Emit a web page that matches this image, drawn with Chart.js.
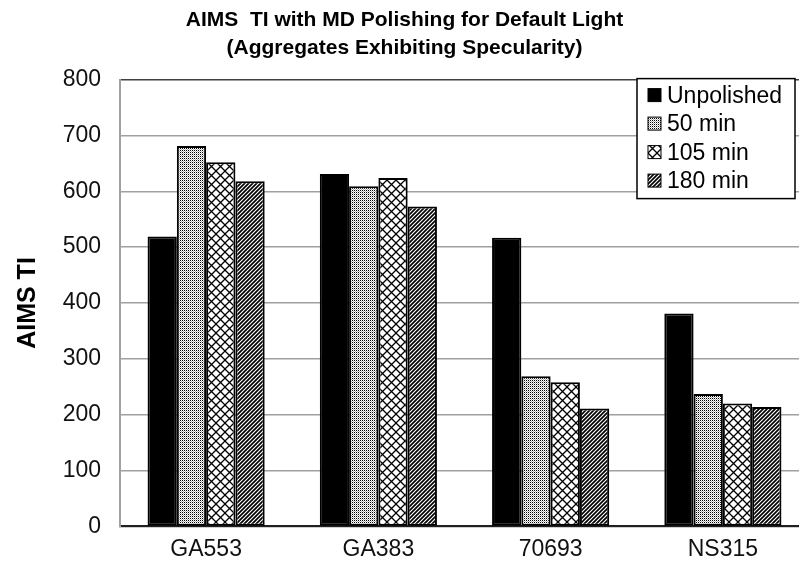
<!DOCTYPE html>
<html>
<head>
<meta charset="utf-8">
<title>AIMS TI with MD Polishing</title>
<script src="https://cdn.jsdelivr.net/npm/chart.js@4/dist/chart.umd.min.js"></script>
<style>
  html, body { margin: 0; padding: 0; overflow: hidden; background: #fff; }
  #wrap { width: 812px; height: 574px; position: relative; }
</style>
</head>
<body>
<div id="wrap"><canvas id="tiChart"></canvas></div>
<script>
// Aggregates and AIMS texture index per polishing time
const aggregates = ['GA553', 'GA383', '70693', 'NS315'];
const seriesNames = ['Unpolished', '50 min', '105 min', '180 min'];
const unpolished = [519, 631, 517, 381];
const min50 = [681, 609, 269, 237];
const min105 = [652, 624, 258, 220];
const min180 = [618, 573, 211, 214];
const yTicks = [0, 100, 200, 300, 400, 500, 600, 700, 800];

const FONT = '"Liberation Sans", Arial, sans-serif';

// Small tiles used as bar fills
function makePattern(kind) {
    const c = document.createElement('canvas');
    const g = c.getContext('2d');
    if (kind === 'dots') {
        c.width = 4; c.height = 4;
        g.fillStyle = '#fff';
        g.fillRect(0, 0, 4, 4);
        g.fillStyle = '#000';
        [[0, 0], [2, 0], [0, 2], [2, 2]].forEach(p => g.fillRect(p[0], p[1], 1, 1));
        g.fillStyle = '#b0b0b0';
        [[1, 1], [3, 3], [1, 3], [3, 1]].forEach(p => g.fillRect(p[0], p[1], 1, 1));
    } else if (kind === 'cross') {
        const s = 9;
        c.width = s; c.height = s;
        g.fillStyle = '#fff';
        g.fillRect(0, 0, s, s);
        g.strokeStyle = '#000';
        g.lineWidth = 1.3;
        g.beginPath();
        g.moveTo(-1, -1); g.lineTo(s + 1, s + 1);
        g.moveTo(-1, s + 1); g.lineTo(s + 1, -1);
        g.stroke();
    } else {
        const s = 4;
        c.width = s; c.height = s;
        g.fillStyle = '#fff';
        g.fillRect(0, 0, s, s);
        g.strokeStyle = '#000';
        g.lineWidth = 1.7;
        g.beginPath();
        g.moveTo(-1, s + 1); g.lineTo(s + 1, -1);
        g.moveTo(-1, 1); g.lineTo(1, -1);
        g.moveTo(s - 1, s + 1); g.lineTo(s + 1, s - 1);
        g.stroke();
    }
    return g.createPattern(c, 'repeat');
}

const fills = ['#000', makePattern('dots'), makePattern('cross'), makePattern('diag')];
const values = [unpolished, min50, min105, min180];

// Boxed legend in the upper right of the plot
const boxLegend = {
    id: 'boxLegend',
    afterDatasetsDraw(chart) {
        const { ctx, chartArea } = chart;
        const left = chartArea.right - 172;
        const top = chartArea.top - 1;
        const w = 158, h = 120;
        ctx.save();
        ctx.fillStyle = '#fff';
        ctx.fillRect(left, top, w, h);
        ctx.strokeStyle = '#000';
        ctx.lineWidth = 1.5;
        ctx.strokeRect(left, top, w, h);
        ctx.font = '23px ' + FONT;
        ctx.textBaseline = 'middle';
        chart.data.datasets.forEach((ds, i) => {
            const y = top + 17 + i * 28.5;
            ctx.fillStyle = ds.backgroundColor;
            ctx.fillRect(left + 11, y - 7, 13, 13);
            ctx.strokeStyle = '#000';
            ctx.lineWidth = 1;
            ctx.strokeRect(left + 11, y - 7, 13, 13);
            ctx.fillStyle = '#000';
            ctx.fillText(ds.label, left + 30, y + 1);
        });
        ctx.restore();
    }
};

new Chart(document.getElementById('tiChart'), {
    type: 'bar',
    data: {
        labels: aggregates,
        datasets: seriesNames.map((name, i) => ({
            label: name,
            data: values[i],
            backgroundColor: fills[i],
            borderColor: '#000',
            borderWidth: 2,
            borderSkipped: false
        }))
    },
    options: {
        responsive: true,
        maintainAspectRatio: false,
        animation: false,
        categoryPercentage: 0.68,
        barPercentage: 1.0,
        layout: { padding: { left: 0, right: 3, top: 0, bottom: 2 } },
        plugins: {
            legend: { display: false },
            tooltip: { enabled: false },
            title: {
                display: true,
                text: ['AIMS  TI with MD Polishing for Default Light', '(Aggregates Exhibiting Specularity)'],
                color: '#000',
                font: { family: FONT, size: 21, weight: 'bold', lineHeight: 1.3 },
                padding: { top: 7, bottom: 18 }
            }
        },
        scales: {
            x: {
                grid: { display: false, drawTicks: false },
                border: { color: '#202020', width: 2 },
                ticks: { color: '#111', padding: 9, font: { family: FONT, size: 23 } }
            },
            y: {
                min: 0,
                max: 800,
                afterFit(scale) { scale.width = 120; },
                afterBuildTicks(scale) { scale.ticks = yTicks.map(v => ({ value: v })); },
                grid: {
                    drawTicks: false,
                    lineWidth: 1.5,
                    color: c => (c.tick && c.tick.value === 800 ? '#404040' : '#a0a0a0')
                },
                border: { color: '#a0a0a0', width: 2 },
                ticks: { color: '#111', padding: 19, font: { family: FONT, size: 23 } },
                title: {
                    display: true,
                    text: 'AIMS TI',
                    color: '#000',
                    font: { family: FONT, size: 25, weight: 'bold' },
                    padding: { top: 13, bottom: 0 }
                }
            }
        }
    },
    plugins: [boxLegend]
});
</script>
</body>
</html>
